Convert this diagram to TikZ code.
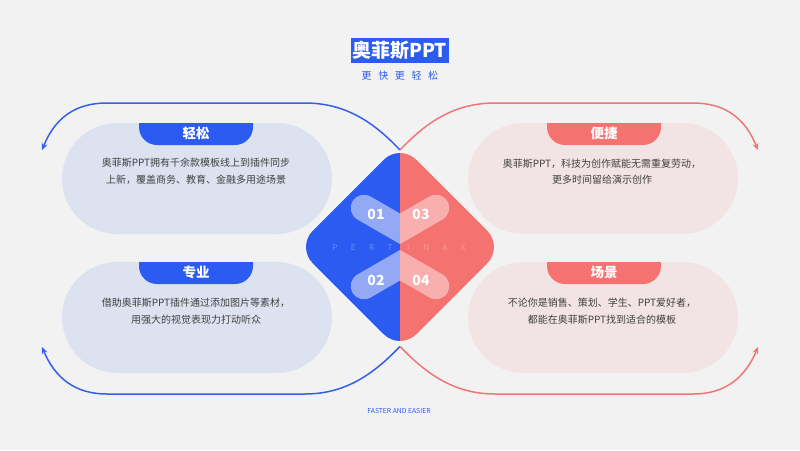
\documentclass[tikz,border=0pt]{standalone}
\usepackage{fontspec}
\setmainfont{Noto Sans CJK SC}
\usetikzlibrary{arrows.meta}

\definecolor{bgcol}{HTML}{F2F2F2}
\definecolor{bluemain}{HTML}{2B5BF0}
\definecolor{redmain}{HTML}{F47371}
\definecolor{bluepale}{HTML}{DDE2F1}
\definecolor{redpale}{HTML}{F2E4E4}
\definecolor{bluebar}{HTML}{93A9F6}
\definecolor{redbar}{HTML}{F9AFAE}
\definecolor{blueline}{HTML}{3460E8}
\definecolor{redline}{HTML}{F07676}
\definecolor{textgray}{HTML}{404040}

\begin{document}
\begin{tikzpicture}[x=1pt,y=-1pt,
    pillbox/.style={rounded corners=55.5pt},
    bodytext/.style={text=textgray, font=\fontsize{10}{16.5}\selectfont, align=center, inner sep=0pt},
    tablabel/.style={text=white, font=\fontsize{13.5}{13.5}\selectfont\bfseries, inner sep=0pt},
    numlabel/.style={text=white, font=\fontsize{14}{14}\selectfont\bfseries, inner sep=0pt},
    ghost/.style={text=white, text opacity=0.3, font=\fontsize{8}{8}\selectfont, inner sep=0pt},
    bar/.style={line width=26.5pt, line cap=round},
    curveline/.style={line width=1.5pt, -{Stealth[length=7pt,width=6pt,inset=2.5pt]}}]
    \fill[bgcol] (0,0) rectangle (800,450);
    \useasboundingbox (0,0) rectangle (800,450);

    % title
    \node[fill=bluemain, text=white, font=\fontsize{19}{19}\selectfont\bfseries,
          minimum width=98pt, minimum height=24.5pt, inner sep=0pt] (title) at (399.5,50.5) {奥菲斯PPT};
    \foreach \ch [count=\i] in {更,快,更,轻,松}
        \node[text=bluemain, font=\fontsize{10}{10}\selectfont, inner sep=0pt] (sub\i) at ({366.7+16.6*(\i-1)},75.5) {\ch};

    % pills
    \fill[bluepale, pillbox] (62,123) rectangle (332,234);
    \fill[bluepale, pillbox] (62,262) rectangle (332,373);
    \fill[redpale, pillbox] (468,123) rectangle (738,234);
    \fill[redpale, pillbox] (468,262) rectangle (738,373);

    % tabs
    \begin{scope}
        \clip (0,123) rectangle (800,200);
        \fill[bluemain, rounded corners=18pt] (139,100) rectangle (253,145);
        \fill[redmain, rounded corners=18pt] (547,100) rectangle (661,145);
    \end{scope}
    \begin{scope}
        \clip (0,262) rectangle (800,340);
        \fill[bluemain, rounded corners=18pt] (139,239) rectangle (253,284);
        \fill[redmain, rounded corners=18pt] (547,239) rectangle (661,284);
    \end{scope}
    \node[tablabel] (tabA) at (196,133.5) {轻松};
    \node[tablabel] (tabB) at (196,272.5) {专业};
    \node[tablabel] (tabC) at (604,133.5) {便捷};
    \node[tablabel] (tabD) at (604,272.5) {场景};

    \node[bodytext] (txtA) at (196,171.5) {奥菲斯PPT拥有千余款模板线上到插件同步\\上新，覆盖商务、教育、金融多用途场景};
    \node[bodytext] (txtB) at (196,311) {借助奥菲斯PPT插件通过添加图片等素材，\\用强大的视觉表现力打动听众};
    \node[bodytext] (txtC) at (602,171.5) {奥菲斯PPT，科技为创作赋能无需重复劳动，\\更多时间留给演示创作};
    \node[bodytext] (txtD) at (602,311) {不论你是销售、策划、学生、PPT爱好者，\\都能在奥菲斯PPT找到适合的模板};

    % diamond, two halves
    \begin{scope}
        \clip (0,0) rectangle (400,450);
        \fill[bluemain, rounded corners=23pt] (400,143.5) -- (503.5,247) -- (400,350.5) -- (296.5,247) -- cycle;
        \draw[bluebar, bar] (364,208) -- (420,240.3);
        \draw[bluebar, bar] (364,286) -- (420,253.7);
    \end{scope}
    \begin{scope}
        \clip (400,0) rectangle (800,450);
        \fill[redmain, rounded corners=23pt] (400,143.5) -- (503.5,247) -- (400,350.5) -- (296.5,247) -- cycle;
        \draw[redbar, bar] (436,208) -- (380,240.3);
        \draw[redbar, bar] (436,286) -- (380,253.7);
    \end{scope}
    \node[numlabel] (n01) at (376,214) {01};
    \node[numlabel] (n03) at (421,214) {03};
    \node[numlabel] (n02) at (376,280) {02};
    \node[numlabel] (n04) at (421,280) {04};
    \foreach \ch [count=\i] in {P,E,R,T,I,N,A,X}
        \node[ghost] (px\i) at ({335+18.3*(\i-1)},248) {\ch};

    % loop arrows
    \coordinate (topjoin) at (400,150);
    \coordinate (botjoin) at (400,346.5);
    \coordinate (endTL) at (42,150);
    \coordinate (endBL) at (42,347);
    \coordinate (endTR) at (758,150);
    \coordinate (endBR) at (758,347);
    \draw[blueline, curveline] (topjoin) .. controls (378,127) and (350,103) .. (305,103) -- (107,103) .. controls (75,103) and (55,118) .. (endTL);
    \draw[blueline, curveline] (botjoin) .. controls (378,369) and (350,394) .. (305,394) -- (107,394) .. controls (75,394) and (55,378) .. (endBL);
    \draw[redline, curveline] (topjoin) .. controls (422,127) and (450,103) .. (495,103) -- (693,103) .. controls (725,103) and (745,118) .. (endTR);
    \draw[redline, curveline] (botjoin) .. controls (422,369) and (450,394) .. (495,394) -- (693,394) .. controls (725,394) and (745,378) .. (endBR);

    \node[text=bluemain, font=\fontsize{6.8}{6.8}\selectfont, inner sep=0pt] (foot) at (399,411) {FASTER AND EASIER};
\end{tikzpicture}
\end{document}
